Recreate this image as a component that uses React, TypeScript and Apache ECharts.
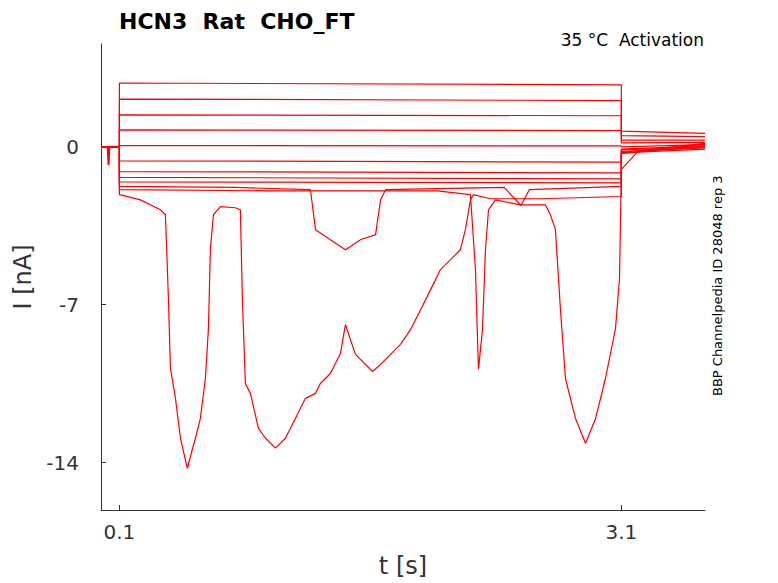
import { useEffect, useRef } from "react";
import * as echarts from "echarts";

// step levels during the 0.1–3.1 s pulse, start and end (nA)
const stepStart = [2.83, 2.12, 1.42, 0.75, 0.06, -0.62, -1.1, -1.35, -1.55];
const stepEnd = [2.75, 2.05, 1.38, 0.72, 0.04, -0.68, -1.15, -1.42, -1.6];
// tail after the pulse: value at 3.1 s and at 3.6 s
const tailStart = [0.7, 0.5, 0.3, 0.18, 0.0, -0.13, -0.27, -0.2, -0.1];
const tailEnd = [0.6, 0.45, 0.3, 0.2, 0.1, 0.0, -0.1, -0.05, 0.05];

// noisy traces with large inward dips [t, I]
const traceA: number[][] = [
  [0.1, -2.12], [0.226, -2.35], [0.345, -2.79], [0.375, -3.01], [0.393, -6.73], [0.405, -9.82],
  [0.435, -11.15], [0.465, -12.92], [0.506, -14.25], [0.554, -12.92], [0.584, -12.04],
  [0.614, -10.27], [0.632, -8.06], [0.644, -4.51], [0.662, -3.01], [0.704, -2.65],
  [0.793, -2.7], [0.823, -2.79], [0.835, -6.73], [0.853, -10.49], [0.883, -10.93],
  [0.931, -12.48], [0.973, -12.92], [1.033, -13.36], [1.092, -12.92], [1.152, -12.04],
  [1.212, -11.15], [1.272, -10.93], [1.301, -10.49], [1.361, -10.05], [1.421, -9.16],
  [1.451, -7.88], [1.481, -8.55], [1.511, -9.2], [1.571, -9.65], [1.613, -9.96],
  [1.661, -9.65], [1.72, -9.2], [1.78, -8.76], [1.84, -8.1], [1.901, -7.21], [1.96, -6.33],
  [2.019, -5.44], [2.079, -5.0], [2.138, -4.56], [2.168, -3.67], [2.198, -2.35],
  [2.216, -2.12], [2.318, -2.3], [2.617, -2.3], [3.1, -2.2], [3.1, -0.3], [3.6, 0.1],
];
const traceB: number[][] = [
  [0.1, -1.9], [1.0, -1.95], [2.0, -1.95], [2.198, -2.12], [2.228, -5.44], [2.246, -9.87],
  [2.27, -8.1], [2.288, -4.56], [2.306, -2.79], [2.348, -2.35], [2.497, -2.57],
  [2.646, -2.57], [2.676, -3.01], [2.706, -3.67], [2.736, -7.21], [2.766, -10.27],
  [2.826, -12.04], [2.886, -13.14], [2.946, -12.04], [3.005, -10.27], [3.065, -8.06],
  [3.089, -5.84], [3.1, -1.0], [3.2, -0.2], [3.6, 0.0],
];
const traceC: number[][] = [
  [0.1, -1.75], [0.8, -1.8], [1.242, -1.9], [1.272, -3.67], [1.361, -4.12], [1.451, -4.56],
  [1.541, -4.12], [1.631, -3.89], [1.661, -2.35], [1.691, -1.9], [2.4, -1.8], [2.5, -2.6],
  [2.55, -1.9], [3.1, -1.75], [3.1, -0.25], [3.6, 0.15],
];

const xTicks = [0.1, 3.1];
const yTicks = [0, -7, -14];

export default function App() {
  const ref = useRef<HTMLDivElement>(null);

  useEffect(() => {
    if (!ref.current) return;
    document.body.style.margin = "0";
    const chart = echarts.init(ref.current, null, { renderer: "svg" });

    const lineStyle = { color: "#ff0000", width: 1.2 };
    const series: any[] = stepStart.map((lv, i) => ({
      type: "line",
      showSymbol: false,
      lineStyle,
      data: [
        [-0.01, 0], [0.1, 0], [0.1, lv], [3.1, stepEnd[i]], [3.1, tailStart[i]], [3.6, tailEnd[i]],
      ],
    }));
    [traceA, traceB, traceC].forEach((d) =>
      series.push({ type: "line", showSymbol: false, lineStyle, data: [[0.1, 0], ...d] })
    );
    // small artifact before the pulse
    series.push({
      type: "line",
      showSymbol: false,
      lineStyle: { color: "#ff0000", width: 2 },
      data: [[0.03, 0], [0.035, -0.8], [0.04, 0], [0.1, 0]],
    });

    chart.setOption({
      animation: false,
      grid: { left: 101, right: 73, top: 44, bottom: 71 },
      title: {
        text: "HCN3  Rat  CHO_FT",
        left: 114,
        top: 5,
        textStyle: { fontFamily: "DejaVu Sans", fontSize: 22, fontWeight: "bold", color: "#000" },
      },
      graphic: [
        {
          type: "text",
          right: 74,
          top: 31,
          style: { text: "35 °C  Activation", font: "17px DejaVu Sans", fill: "#000" },
        },
        {
          type: "text",
          x: 711,
          y: 396,
          rotation: Math.PI / 2,
          style: { text: "BBP Channelpedia ID 28048 rep 3", font: "13px DejaVu Sans", fill: "#000" },
        },
      ],
      xAxis: {
        type: "value",
        min: -0.01,
        max: 3.6,
        name: "t [s]",
        nameLocation: "middle",
        nameGap: 44,
        nameTextStyle: { fontFamily: "DejaVu Sans", fontSize: 24, color: "#333" },
        axisLine: { onZero: false, lineStyle: { color: "#333" } },
        axisTick: { inside: true, customValues: xTicks, lineStyle: { color: "#333" } },
        axisLabel: {
          customValues: xTicks,
          fontFamily: "DejaVu Sans",
          fontSize: 20,
          color: "#333",
          margin: 12,
          formatter: (v: number) => String(v),
        },
        splitLine: { show: false },
      },
      yAxis: {
        type: "value",
        min: -16.1,
        max: 4.56,
        name: "I [nA]",
        nameLocation: "middle",
        nameGap: 62,
        nameTextStyle: { fontFamily: "DejaVu Sans", fontSize: 24, color: "#333" },
        axisLine: { show: true, onZero: false, lineStyle: { color: "#333" } },
        axisTick: { inside: true, customValues: yTicks, lineStyle: { color: "#333" } },
        axisLabel: {
          customValues: yTicks,
          fontFamily: "DejaVu Sans",
          fontSize: 20,
          color: "#333",
          margin: 22,
        },
        splitLine: { show: false },
      },
      series,
    });

    return () => chart.dispose();
  }, []);

  return <div ref={ref} style={{ width: 778, height: 583 }} />;
}
